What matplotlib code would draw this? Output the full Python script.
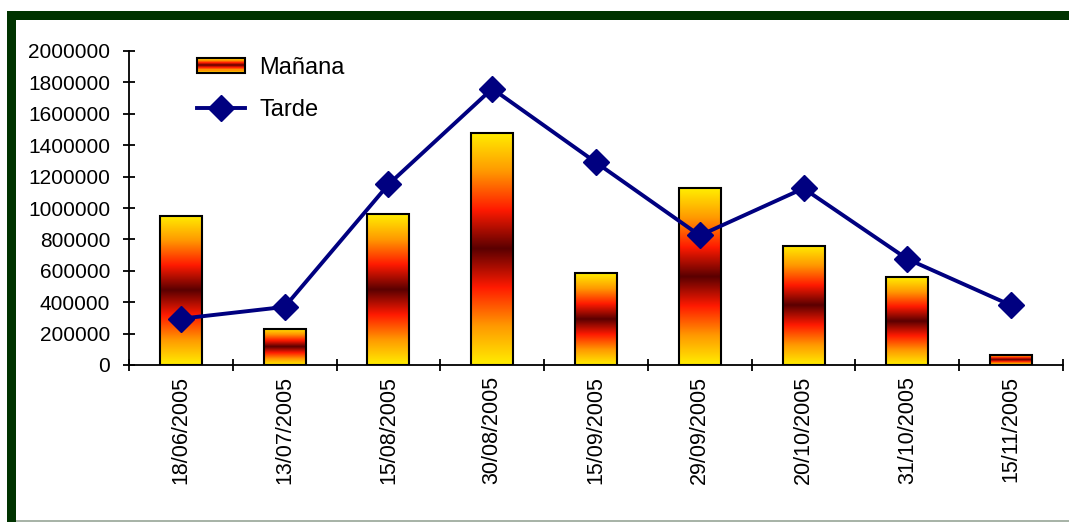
import numpy as np
import matplotlib.pyplot as plt
from matplotlib.colors import LinearSegmentedColormap
from matplotlib.patches import Rectangle
from matplotlib.lines import Line2D
from matplotlib.legend_handler import HandlerBase

plt.rcParams['font.family'] = ['Liberation Sans', 'DejaVu Sans']

fechas = ['18/06/2005', '13/07/2005', '15/08/2005', '30/08/2005', '15/09/2005',
          '29/09/2005', '20/10/2005', '31/10/2005', '15/11/2005']
manana = [950000, 230000, 960000, 1480000, 585000, 1125000, 760000, 560000, 65000]
tarde = [295000, 370000, 1150000, 1760000, 1290000, 825000, 1125000, 675000, 380000]

# yellow -> orange -> red -> dark red -> red -> orange -> yellow
stops = ['#ffee00', '#ff9900', '#ff1a00', '#5a0000', '#ff1a00', '#ff9900', '#ffee00']
cmap = LinearSegmentedColormap.from_list('fuego', stops)


class FireHandler(HandlerBase):
    def create_artists(self, legend, orig_handle, xdescent, ydescent,
                       width, height, fontsize, trans):
        arts = []
        n = 14
        for i in range(n):
            r = Rectangle((-xdescent, -ydescent + height * i / n), width, height / n,
                          facecolor=cmap((i + 0.5) / n), edgecolor='none', transform=trans)
            arts.append(r)
        arts.append(Rectangle((-xdescent, -ydescent), width, height, facecolor='none',
                              edgecolor='black', lw=1.5, transform=trans))
        return arts


fig = plt.figure(figsize=(10.69, 5.22), dpi=100)
ax = fig.add_axes([129 / 1069, 1 - 365 / 522, (1063 - 129) / 1069, (365 - 51) / 522])

x = np.arange(len(fechas))
grad = np.linspace(0, 1, 256).reshape(-1, 1)
bw = 0.405
for xi, v in zip(x, manana):
    ax.imshow(grad, cmap=cmap, aspect='auto', origin='lower',
              extent=(xi - bw / 2, xi + bw / 2, 0, v), zorder=2)
    ax.add_patch(Rectangle((xi - bw / 2, 0), bw, v, facecolor='none',
                           edgecolor='black', lw=1.5, zorder=3))

ax.plot(x, tarde, color='#000080', lw=2.8, marker='D', markersize=13,
        zorder=4, clip_on=False)

ax.set_xlim(-0.5, len(fechas) - 0.5)
ax.set_ylim(0, 2000000)
ax.set_yticks(np.arange(0, 2000001, 200000))
ax.set_yticklabels([str(v) for v in range(0, 2000001, 200000)], fontsize=15)
ax.set_xticks(x)
ax.set_xticklabels(fechas, rotation=90, fontsize=15.5)
ax.set_xticks(np.arange(-0.5, len(fechas)), minor=True)
ax.tick_params(axis='x', which='major', length=0, pad=8)
ax.tick_params(axis='x', which='minor', direction='inout', length=9, width=1.3)
ax.tick_params(axis='y', direction='inout', length=9, width=1.3, pad=9)
for s in ['top', 'right']:
    ax.spines[s].set_visible(False)
for s in ['left', 'bottom']:
    ax.spines[s].set_linewidth(1.3)

h_m = Rectangle((0, 0), 1, 1)
h_t = Line2D([], [], color='#000080', lw=2.8, marker='D', markersize=13)
ax.legend([h_m, h_t], ['Mañana', 'Tarde'], handler_map={Rectangle: FireHandler()},
          loc='upper left', bbox_to_anchor=(0.055, 1.035), frameon=False, fontsize=17,
          handlelength=2.05, handleheight=0.6, labelspacing=0.85, handletextpad=0.6,
          borderaxespad=0.3)

# dark green frame on top and left, grey line at the bottom
fig.patches.append(Rectangle((7 / 1069, 0), 9 / 1069, 1 - 11 / 522, transform=fig.transFigure,
                             facecolor='#003300', edgecolor='none'))
fig.patches.append(Rectangle((7 / 1069, 1 - 20 / 522), 1, 9 / 522, transform=fig.transFigure,
                             facecolor='#003300', edgecolor='none'))
fig.patches.append(Rectangle((16 / 1069, 0), 1, 2 / 522, transform=fig.transFigure,
                             facecolor='#a8b4a8', edgecolor='none'))

fig.savefig('out.png', dpi=100)
